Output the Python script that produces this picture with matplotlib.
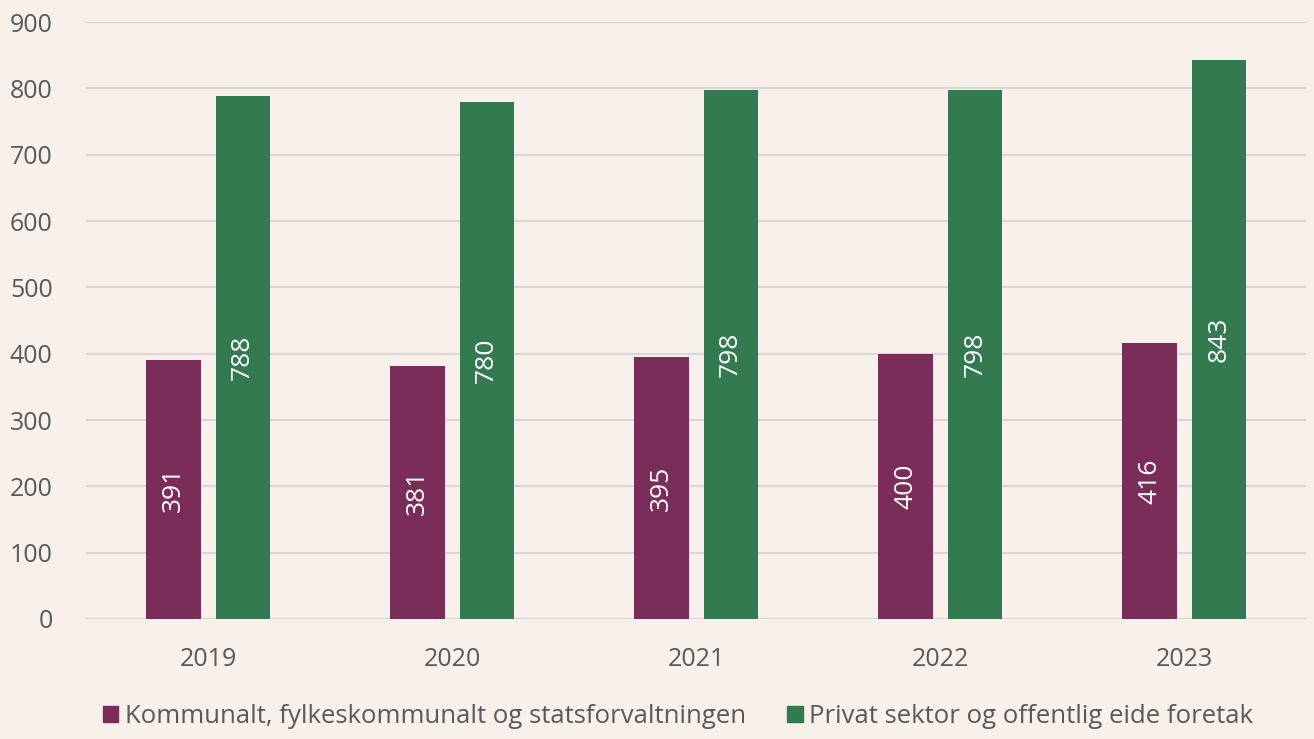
import numpy as np
import matplotlib
matplotlib.use("Agg")
import matplotlib.pyplot as plt
from matplotlib.patches import Patch

years = ["2019", "2020", "2021", "2022", "2023"]
kommunal = [391, 381, 395, 400, 416]
privat = [788, 780, 798, 798, 843]
series_names = ["Kommunalt, fylkeskommunalt og statsforvaltningen",
                "Privat sektor og offentlig eide foretak"]

BG = "#F7F0EB"
PURPLE = "#7B2D5A"
GREEN = "#347A50"
GREY = "#595959"

plt.rcParams["font.family"] = ["Open Sans", "DejaVu Sans"]

fig = plt.figure(figsize=(13.14, 7.39), dpi=100, facecolor=BG)
ax = fig.add_axes([0.0655, 0.1624, 0.9285, 0.8076], facecolor=BG)

x = np.arange(len(years))
w = 0.222
off = 0.142
b1 = ax.bar(x - off, kommunal, w, color=PURPLE, zorder=3)
b2 = ax.bar(x + off, privat, w, color=GREEN, zorder=3)

for bars in (b1, b2):
    for r in bars:
        h = r.get_height()
        ax.text(r.get_x() + r.get_width() / 2, h / 2, f"{h:.0f}",
                rotation=90, ha="center", va="center", color="white",
                fontsize=19, zorder=4)

ax.set_xlim(-0.5, len(years) - 0.5)
ax.set_ylim(0, 900)
ax.set_yticks(range(0, 901, 100))
ax.set_xticks(x)
ax.set_xticklabels(years)
ax.tick_params(axis="both", length=0, labelsize=18, colors=GREY)
ax.tick_params(axis="x", pad=20)
ax.tick_params(axis="y", pad=24)
ax.grid(axis="y", color="#DCD5D5", lw=1.5, zorder=0)
for s in ax.spines.values():
    s.set_visible(False)

handles = [Patch(color=PURPLE), Patch(color=GREEN)]
fig.legend(handles, series_names, loc="lower center", ncol=2, frameon=False,
           fontsize=18.5, labelcolor=GREY, handlelength=0.6, handleheight=0.6,
           handletextpad=0.25, columnspacing=1.6, bbox_to_anchor=(0.516, -0.018))

fig.savefig("out.png", dpi=100, facecolor=BG)
